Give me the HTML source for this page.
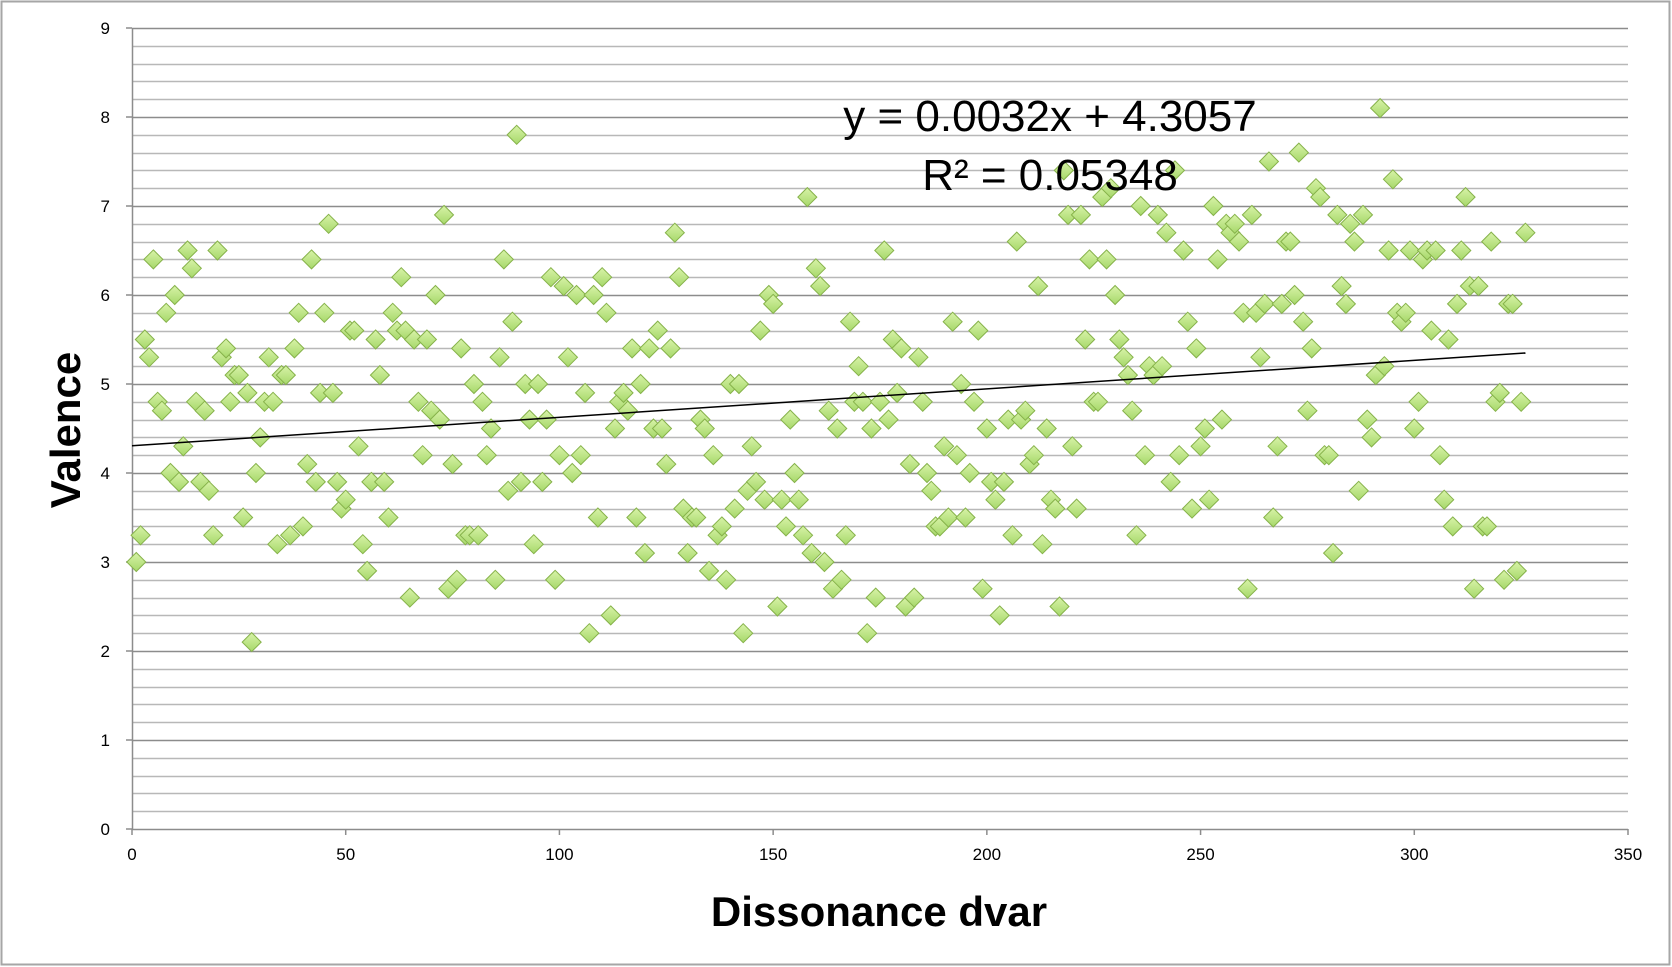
<!DOCTYPE html>
<html><head><meta charset="utf-8"><style>
html,body{margin:0;padding:0;background:#fff;}
svg{display:block;font-family:"Liberation Sans",sans-serif;}
</style></head><body>
<svg id="chart" width="1672" height="967" viewBox="0 0 1672 967" xmlns="http://www.w3.org/2000/svg">
<defs><linearGradient id="g" x1="0" y1="0" x2="0" y2="1"><stop offset="0" stop-color="#d8f3a8"/><stop offset="1" stop-color="#a6d86a"/></linearGradient></defs>
<rect x="1.5" y="1.5" width="1668" height="963" fill="#fff" stroke="#a6a6a6" stroke-width="2"/>
<g id="grid"></g><g id="axes"></g><g id="points"></g><g id="trend"></g>
<text x="1050" y="131" font-size="44" text-anchor="middle" fill="#000">y = 0.0032x + 4.3057</text>
<text x="1050" y="190" font-size="44" text-anchor="middle" fill="#000">R² = 0.05348</text>
<text x="0" y="0" transform="translate(80,430) rotate(-90)" font-size="42" font-weight="bold" text-anchor="middle">Valence</text>
<text x="879" y="926" font-size="42" font-weight="bold" text-anchor="middle">Dissonance dvar</text>
</svg>
<script>
const yVals=[3.0,3.3,5.5,5.3,6.4,4.8,4.7,5.8,4.0,6.0,3.9,4.3,6.5,6.3,4.8,3.9,4.7,3.8,3.3,6.5,5.3,5.4,4.8,5.1,5.1,3.5,4.9,2.1,4.0,4.4,4.8,5.3,4.8,3.2,5.1,5.1,3.3,5.4,5.8,3.4,4.1,6.4,3.9,4.9,5.8,6.8,4.9,3.9,3.6,3.7,5.6,5.6,4.3,3.2,2.9,3.9,5.5,5.1,3.9,3.5,5.8,5.6,6.2,5.6,2.6,5.5,4.8,4.2,5.5,4.7,6.0,4.6,6.9,2.7,4.1,2.8,5.4,3.3,3.3,5.0,3.3,4.8,4.2,4.5,2.8,5.3,6.4,3.8,5.7,7.8,3.9,5.0,4.6,3.2,5.0,3.9,4.6,6.2,2.8,4.2,6.1,5.3,4.0,6.0,4.2,4.9,2.2,6.0,3.5,6.2,5.8,2.4,4.5,4.8,4.9,4.7,5.4,3.5,5.0,3.1,5.4,4.5,5.6,4.5,4.1,5.4,6.7,6.2,3.6,3.1,3.5,3.5,4.6,4.5,2.9,4.2,3.3,3.4,2.8,5.0,3.6,5.0,2.2,3.8,4.3,3.9,5.6,3.7,6.0,5.9,2.5,3.7,3.4,4.6,4.0,3.7,3.3,7.1,3.1,6.3,6.1,3.0,4.7,2.7,4.5,2.8,3.3,5.7,4.8,5.2,4.8,2.2,4.5,2.6,4.8,6.5,4.6,5.5,4.9,5.4,2.5,4.1,2.6,5.3,4.8,4.0,3.8,3.4,3.4,4.3,3.5,5.7,4.2,5.0,3.5,4.0,4.8,5.6,2.7,4.5,3.9,3.7,2.4,3.9,4.6,3.3,6.6,4.6,4.7,4.1,4.2,6.1,3.2,4.5,3.7,3.6,2.5,7.4,6.9,4.3,3.6,6.9,5.5,6.4,4.8,4.8,7.1,6.4,7.2,6.0,5.5,5.3,5.1,4.7,3.3,7.0,4.2,5.2,5.1,6.9,5.2,6.7,3.9,7.4,4.2,6.5,5.7,3.6,5.4,4.3,4.5,3.7,7.0,6.4,4.6,6.8,6.7,6.8,6.6,5.8,2.7,6.9,5.8,5.3,5.9,7.5,3.5,4.3,5.9,6.6,6.6,6.0,7.6,5.7,4.7,5.4,7.2,7.1,4.2,4.2,3.1,6.9,6.1,5.9,6.8,6.6,3.8,6.9,4.6,4.4,5.1,8.1,5.2,6.5,7.3,5.8,5.7,5.8,6.5,4.5,4.8,6.4,6.5,5.6,6.5,4.2,3.7,5.5,3.4,5.9,6.5,7.1,6.1,2.7,6.1,3.4,3.4,6.6,4.8,4.9,2.8,5.9,5.9,2.9,4.8,6.7];
const xTicks=[0,50,100,150,200,250,300,350];
const yTicks=[0,1,2,3,4,5,6,7,8,9];
const trendSlope=[0.0032];
const trendIntercept=[4.3057];
const trendRange=[0,326];
const NS='http://www.w3.org/2000/svg';
const L=132,R=1628,T=28,B=829,XMAX=350,YMAX=9;
const sx=v=>L+v/XMAX*(R-L);
const sy=v=>B-v/YMAX*(B-T);
function mk(tag,attrs,parent){const e=document.createElementNS(NS,tag);for(const k in attrs)e.setAttribute(k,attrs[k]);parent.appendChild(e);return e;}
const grid=document.getElementById('grid'),axes=document.getElementById('axes'),pts=document.getElementById('points'),tr=document.getElementById('trend');
for(let i=1;i<=45;i++){const v=i*0.2;const y=Math.round(sy(v))+0.5;
 const ln=mk('line',{x1:L,x2:R,y1:y,y2:y,stroke:(i%5==0)?'#8c8c8c':'#b8b8b8','stroke-width':1.5},grid);
 
 }
const ya=mk('line',{x1:L+0.5,x2:L+0.5,y1:T,y2:B,stroke:'#8c8c8c','stroke-width':1.5},axes);


const xa=mk('line',{x1:L,x2:R,y1:B+0.5,y2:B+0.5,stroke:'#8c8c8c','stroke-width':1.5},axes);


yTicks.forEach(v=>{const y=sy(v);
 const t=mk('line',{x1:L-6,x2:L,y1:y,y2:y,stroke:'#8c8c8c','stroke-width':1.5},axes);
 
 
 const tx=mk('text',{x:L-22,y:y+6,'font-size':17,'text-anchor':'end',fill:'#000'},axes);tx.textContent=v;
 
 });
xTicks.forEach(v=>{const x=sx(v);
 const t=mk('line',{x1:x,x2:x,y1:B,y2:B+6,stroke:'#8c8c8c','stroke-width':1.5},axes);
 
 
 const tx=mk('text',{x:x,y:B+31,'font-size':17,'text-anchor':'middle',fill:'#000'},axes);tx.textContent=v;
 
 });
yVals.forEach((v,i)=>{const cx=sx(i+1),cy=sy(v),r=9.5;
 const p=mk('polygon',{points:`${cx},${cy-r} ${cx+r},${cy} ${cx},${cy+r} ${cx-r},${cy}`,fill:'url(#g)',stroke:'#86b24a','stroke-width':1},pts);
 
 });
const f=x=>trendIntercept[0]+trendSlope[0]*x;
const tl=mk('line',{x1:sx(trendRange[0]),y1:sy(f(trendRange[0])),x2:sx(trendRange[1]),y2:sy(f(trendRange[1])),stroke:'#000','stroke-width':1.5},tr);


</script>
</body></html>
